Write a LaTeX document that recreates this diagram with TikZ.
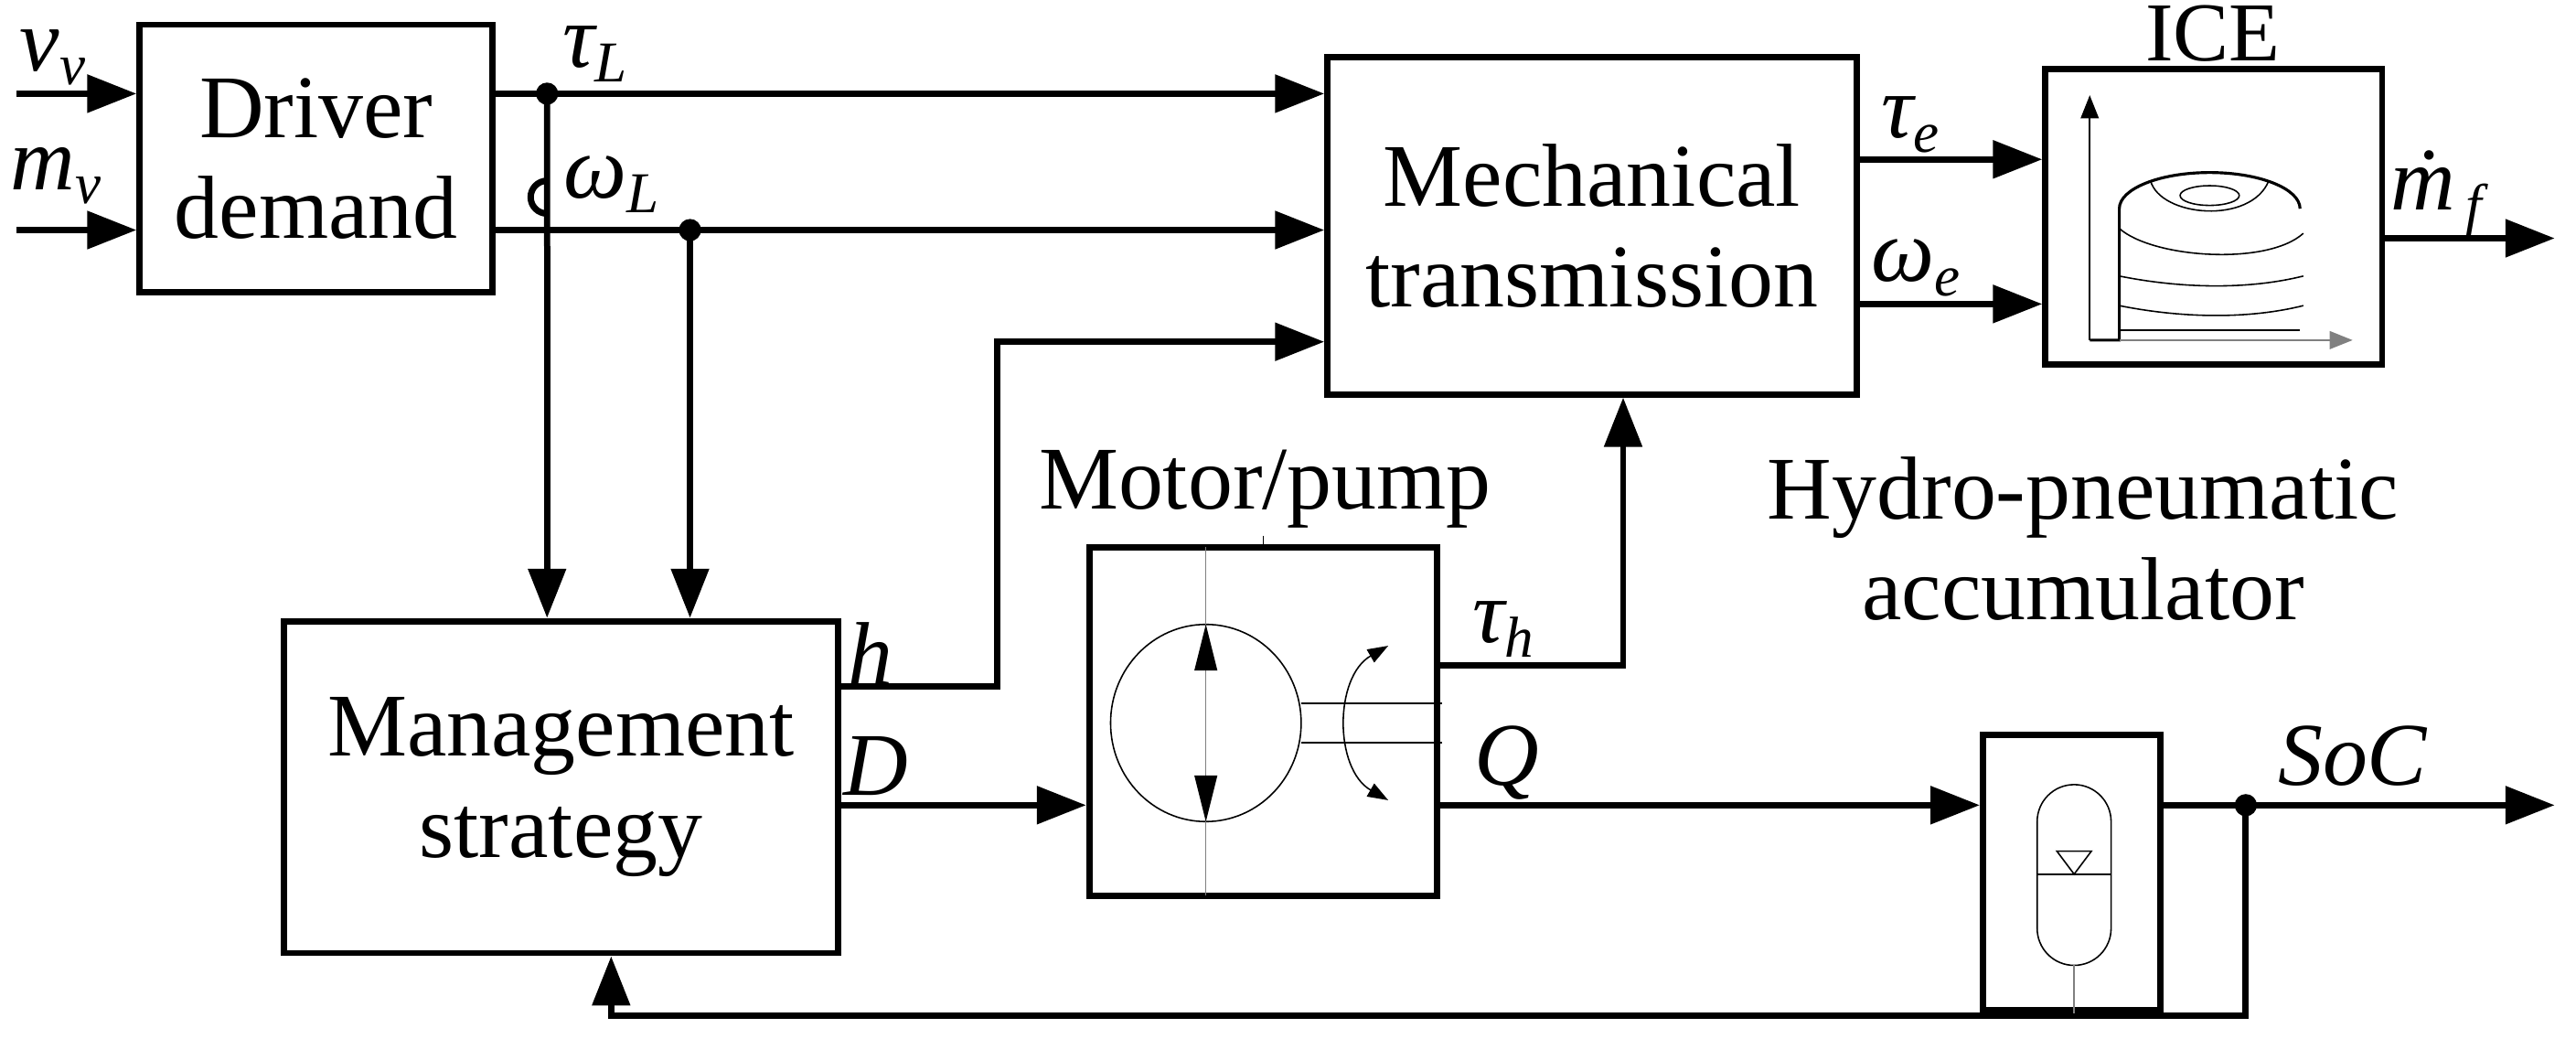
\documentclass[tikz,border=0pt]{standalone}
\usepackage{fontspec}
\setmainfont{LiberationSerif}[Extension=.ttf,UprightFont=*-Regular,ItalicFont=*-Italic,BoldFont=*-Bold]
\usetikzlibrary{arrows.meta}
\begin{document}
\begin{tikzpicture}[x=0.02cm,y=-0.02cm,
  box/.style={draw,line width=2.2pt,inner sep=0pt},
  txt/.style={font=\fontsize{31}{35}\selectfont,align=center},
  lbl/.style={font=\fontsize{31}{35}\selectfont\itshape,inner sep=0pt},
  sig/.style={line width=2.2pt,-{Triangle[length=0.6cm,width=0.45cm]}},
  wire/.style={line width=2.2pt},
  dot/.style={circle,fill,inner sep=0pt,minimum size=0.27cm},
  thin/.style={line width=0.5pt}]
\newcommand{\lb}[2]{#1\raisebox{-0.35ex}{\fontsize{20}{24}\selectfont #2}}
\useasboundingbox (0,0) rectangle (1568,632);
% boxes
\node[box,minimum width=4.3cm,minimum height=3.26cm] (drv) at (192.5,96.5) {};
\node[txt] at (drv) {Driver\\demand};
\node[box,minimum width=6.44cm,minimum height=4.1cm] (mech) at (969,137.5) {};
\node[txt] at (mech) {Mechanical\\transmission};
\node[box,minimum width=6.74cm,minimum height=4.04cm] (man) at (341.5,479) {};
\node[txt] at (man) {Management\\strategy};
\node[box,minimum width=4.24cm,minimum height=4.24cm] (mp) at (769,439) {};
\node[txt,anchor=base] (mpl) at (770,310) {Motor/pump};
\node[box,minimum width=2.16cm,minimum height=3.36cm] (acc) at (1261,531) {};
\node[txt] (accl) at (1268,328) {Hydro-pneumatic\\accumulator};
\node[box,minimum width=4.1cm,minimum height=3.6cm] (ice) at (1347.5,132) {};
\node[txt,anchor=base,font=\fontsize{29}{33}\selectfont] (icel) at (1347,37) {ICE};
% inputs
\coordinate (vin) at (10,57); \coordinate (min) at (10,140);
\draw[sig] (vin) -- (vin-|drv.west);
\draw[sig] (min) -- (min-|drv.west);
\node[lbl] at (32,35) {\lb{v}{v}};
\node[lbl] at (34,107) {\lb{m}{v}};
% tau_L and omega_L
\coordinate (tL) at (333,57); \coordinate (wL) at (420,140);
\draw[sig] (tL-|drv.east) -- (tL-|mech.west);
\draw[sig] (wL-|drv.east) -- (wL-|mech.west);
\node[dot] at (tL) {}; \node[dot] at (wL) {};
\node[lbl] at (362,33) {\lb{τ}{L}};
\node[lbl] at (372,112) {\lb{ω}{L}};
\coordinate (jB) at (333,150);
\draw[wire] (tL) -- (333,130) arc[start angle=90,end angle=270,radius=10] -- (jB);
\draw[sig] (jB) -- (jB|-man.north);
\draw[sig] (wL) -- (wL|-man.north);
% h path
\coordinate (hA) at (607,418); \coordinate (hB) at (607,208);
\draw[sig] (hA-|man.east) -- (hA) -- (hB) -- (hB-|mech.west);
\node[lbl] at (530,398) {h};
% D
\coordinate (Dy) at (0,490);
\draw[sig] (Dy-|man.east) -- (Dy-|mp.west);
\node[lbl] at (533,466) {D};
% tau_h
\coordinate (th) at (988,405);
\draw[sig] (th-|mp.east) -- (th) -- (th|-mech.south);
\node[lbl] at (915,383) {\lb{τ}{h}};
% Q
\draw[sig] (Dy-|mp.east) -- (Dy-|acc.west);
\node[lbl] at (917,464) {Q};
% tau_e, omega_e
\coordinate (te) at (1130,97); \coordinate (we) at (1130,185);
\draw[sig] (te) -- (te-|ice.west);
\draw[sig] (we) -- (we-|ice.west);
\node[lbl] at (1163,76) {\lb{τ}{e}};
\node[lbl] at (1166,163) {\lb{ω}{e}};
% m_f
\coordinate (mf) at (1555,145);
\draw[sig] (mf-|ice.east) -- (mf);
\node[lbl] at (1483,118) {\lb{\.m}{\,f}};
% SoC and feedback
\coordinate (sd) at (1367,490); \coordinate (so) at (1555,490);
\coordinate (fb) at (372,618);
\draw[sig] (Dy-|acc.east) -- (so);
\node[dot] at (sd) {};
\node[lbl] at (1432,460) {SoC};
\draw[sig] (sd) -- (1367,618) -- (fb) -- (fb|-man.south);
% ICE icon
\begin{scope}[thin]
\draw[-{Triangle[length=0.28cm,width=0.22cm]}] (1272,207) -- (1272,58);
\draw[line width=1pt] (1272,207) -- (1290,207) -- (1290,127) arc[start angle=180,end angle=360,x radius=55,y radius=22];
\draw[-{Triangle[length=0.28cm,width=0.22cm]},gray] (1290,207) -- (1432,207);
\draw (1290,201) -- (1400,201);
\draw (1290,186) .. controls (1330,194) and (1370,194) .. (1402,186);
\draw (1290,168) .. controls (1330,176) and (1370,176) .. (1402,168);
\draw (1290,139) .. controls (1310,157) and (1380,162) .. (1402,142);
\draw (1309,110) .. controls (1315,132) and (1370,137) .. (1381,110);
\draw (1345,119) ellipse[x radius=18,y radius=6];
\end{scope}
% motor icon
\begin{scope}[thin]
\draw (769,326) -- (769,333);
\draw (734,440) ellipse[x radius=58,y radius=60];
\draw[gray] (734,333) -- (734,545);
\fill (734,380) -- (727,408) -- (741,408) -- cycle;
\fill (734,500) -- (727,472) -- (741,472) -- cycle;
\draw (792,428) -- (878,428); \draw (792,452) -- (878,452);
\draw[{Triangle[length=0.25cm,width=0.18cm]}-{Triangle[length=0.25cm,width=0.18cm]}] (845,393) .. controls (812,412) and (812,468) .. (845,487);
\end{scope}
% accumulator icon
\begin{scope}[thin]
\draw (1240,500) -- (1240,565) arc[start angle=180,end angle=0,radius=22.5] -- (1285,500) arc[start angle=0,end angle=-180,radius=22.5] -- cycle;
\draw (1240,532) -- (1285,532);
\draw (1252,518) -- (1273,518) -- (1262.5,532) -- cycle;
\coordinate (st) at (1262.5,587.5);
\draw[gray] (st) -- (st|-acc.south);
\end{scope}
\end{tikzpicture}
\end{document}
